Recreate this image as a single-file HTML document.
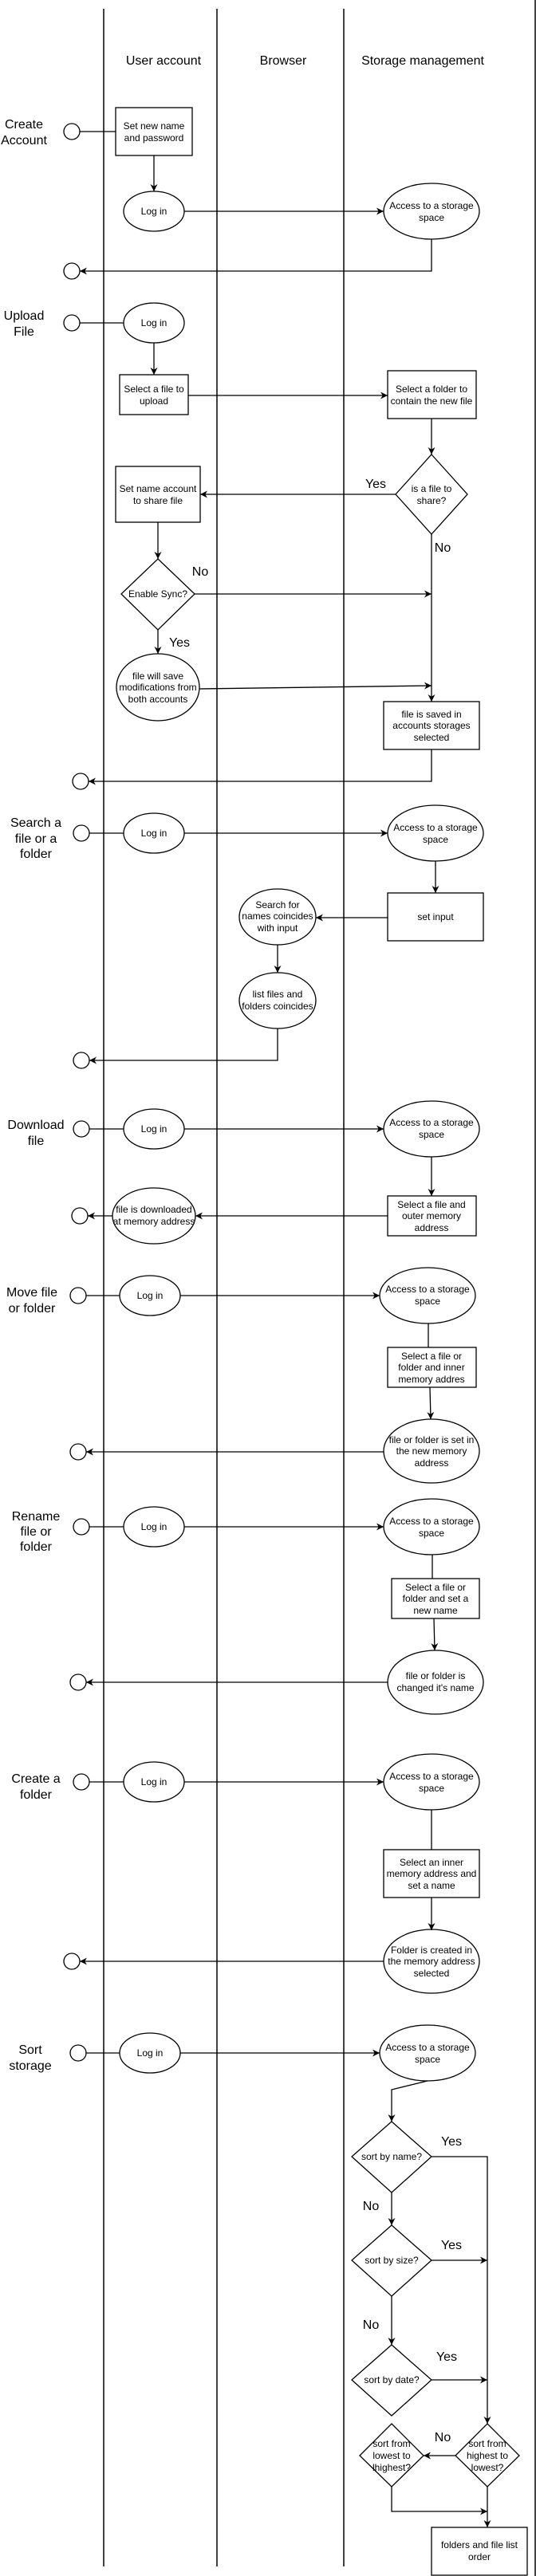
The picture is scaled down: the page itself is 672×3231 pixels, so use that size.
<!DOCTYPE html>
<html><head><meta charset="utf-8"><style>
html,body{margin:0;padding:0;background:#fff;}
svg{display:block;}
text{font-family:"Liberation Sans",Arial,sans-serif;fill:#000;}
.s{font-size:12px;}
.l{font-size:16px;}
</style></head><body>
<svg width="672" height="3231" viewBox="0 0 672 3231" xmlns="http://www.w3.org/2000/svg">
<defs>
<marker id="a" viewBox="0 0 10 10" refX="10" refY="5" markerWidth="9" markerHeight="9" markerUnits="userSpaceOnUse" orient="auto">
<path d="M0,0 L10,5 L0,10 L3,5 z" fill="#000"/>
</marker>
</defs>
<g stroke="#000" stroke-width="1.5" fill="none">
<line x1="130" y1="11" x2="130" y2="3219"/>
<line x1="272" y1="11" x2="272" y2="3219"/>
<line x1="431" y1="11" x2="431" y2="3219"/>
<line x1="671" y1="0" x2="671" y2="3231"/>
</g>
<g class="l" text-anchor="middle">
<text x="205" y="81">User account</text>
<text x="355" y="81">Browser</text>
<text x="530" y="81">Storage management</text>
<text x="30" y="161">Create</text><text x="30" y="181">Account</text>
<text x="30" y="401">Upload</text><text x="30" y="421">File</text>
<text x="45" y="1037">Search a</text><text x="45" y="1057">file or a</text><text x="45" y="1076">folder</text>
<text x="45" y="1416">Download</text><text x="45" y="1436">file</text>
<text x="40" y="1626">Move file</text><text x="40" y="1646">or folder</text>
<text x="45" y="1907">Rename</text><text x="45" y="1926">file or</text><text x="45" y="1945">folder</text>
<text x="45" y="2236">Create a</text><text x="45" y="2256">folder</text>
<text x="38" y="2576">Sort</text><text x="38" y="2596">storage</text>
<text x="471" y="612">Yes</text>
<text x="555" y="692">No</text>
<text x="251" y="722">No</text>
<text x="225" y="811">Yes</text>
<text x="566" y="2691">Yes</text>
<text x="465" y="2772">No</text>
<text x="566" y="2821">Yes</text>
<text x="465" y="2921">No</text>
<text x="560" y="2961">Yes</text>
<text x="555" y="3062">No</text>
</g>
<g stroke="#000" stroke-width="1.3" fill="#fff">
<!-- create account -->
<circle cx="90" cy="165" r="10"/>
<rect x="145" y="135" width="96" height="60"/>
<ellipse cx="193" cy="265" rx="38" ry="25"/>
<ellipse cx="541" cy="265" rx="60" ry="35"/>
<circle cx="90" cy="340" r="10"/>
<!-- upload -->
<circle cx="90" cy="405" r="10"/>
<ellipse cx="193" cy="405" rx="38" ry="25"/>
<rect x="150" y="470" width="86" height="50"/>
<rect x="486" y="465" width="111" height="60"/>
<polygon points="541,570 586,620 541,670 496,620"/>
<rect x="145" y="585" width="106" height="70"/>
<polygon points="198,701 244,745 198,790 152,745"/>
<ellipse cx="198" cy="862" rx="52" ry="42"/>
<rect x="481" y="880" width="120" height="60"/>
<circle cx="101" cy="980" r="10"/>
<!-- search -->
<circle cx="102" cy="1045" r="10"/>
<ellipse cx="193" cy="1045" rx="38" ry="25"/>
<ellipse cx="546" cy="1045" rx="60" ry="35"/>
<rect x="486" y="1120" width="120" height="60"/>
<ellipse cx="348" cy="1150" rx="48" ry="35"/>
<ellipse cx="348" cy="1255" rx="48" ry="35"/>
<circle cx="102" cy="1330" r="10"/>
<!-- download -->
<circle cx="102" cy="1416" r="10"/>
<ellipse cx="193" cy="1416" rx="38" ry="25"/>
<ellipse cx="541" cy="1416" rx="60" ry="35"/>
<rect x="486" y="1500" width="111" height="50"/>
<ellipse cx="193" cy="1525" rx="52" ry="35"/>
<circle cx="100" cy="1525" r="10"/>
<!-- move -->
<circle cx="98" cy="1625" r="10"/>
<ellipse cx="188" cy="1625" rx="38" ry="25"/>
<ellipse cx="536" cy="1625" rx="60" ry="35"/>
<rect x="486" y="1690" width="111" height="50"/>
<ellipse cx="541" cy="1820" rx="60" ry="40"/>
<circle cx="98" cy="1821" r="10"/>
<!-- rename -->
<circle cx="102" cy="1915" r="10"/>
<ellipse cx="193" cy="1915" rx="38" ry="25"/>
<ellipse cx="541" cy="1915" rx="60" ry="35"/>
<rect x="491" y="1980" width="110" height="50"/>
<ellipse cx="546" cy="2110" rx="60" ry="40"/>
<circle cx="98" cy="2110" r="10"/>
<!-- create folder -->
<circle cx="102" cy="2235" r="10"/>
<ellipse cx="193" cy="2235" rx="38" ry="25"/>
<ellipse cx="541" cy="2235" rx="60" ry="35"/>
<rect x="481" y="2320" width="120" height="60"/>
<ellipse cx="541" cy="2460" rx="60" ry="40"/>
<circle cx="90" cy="2460" r="10"/>
<!-- sort -->
<circle cx="98" cy="2575" r="10"/>
<ellipse cx="188" cy="2575" rx="38" ry="25"/>
<ellipse cx="536" cy="2575" rx="60" ry="35"/>
<polygon points="491,2661 541,2705 491,2750 441,2705"/>
<polygon points="491,2791 541,2835 491,2880 441,2835"/>
<polygon points="491,2941 541,2985 491,3030 441,2985"/>
<polygon points="611,3040 651,3080 611,3119 571,3080"/>
<polygon points="491,3040 531,3080 491,3119 451,3080"/>
<rect x="541" y="3170" width="120" height="60"/>
</g>
<g stroke="#000" stroke-width="1.3" fill="none">
<line x1="100" y1="165" x2="145" y2="165"/>
<line x1="193" y1="195" x2="193" y2="240" marker-end="url(#a)"/>
<line x1="231" y1="265" x2="481" y2="265" marker-end="url(#a)"/>
<polyline points="541,300 541,340 100,340" marker-end="url(#a)"/>
<line x1="100" y1="405" x2="155" y2="405"/>
<line x1="193" y1="430" x2="193" y2="470" marker-end="url(#a)"/>
<line x1="236" y1="496" x2="486" y2="496" marker-end="url(#a)"/>
<line x1="541" y1="525" x2="541" y2="570" marker-end="url(#a)"/>
<line x1="496" y1="620" x2="251" y2="620" marker-end="url(#a)"/>
<line x1="198" y1="655" x2="198" y2="701" marker-end="url(#a)"/>
<line x1="244" y1="745" x2="541" y2="745" marker-end="url(#a)"/>
<line x1="198" y1="790" x2="198" y2="820" marker-end="url(#a)"/>
<line x1="250" y1="864" x2="541" y2="860" marker-end="url(#a)"/>
<line x1="541" y1="670" x2="541" y2="880" marker-end="url(#a)"/>
<polyline points="541,940 541,980 111,980" marker-end="url(#a)"/>
<line x1="112" y1="1045" x2="155" y2="1045"/>
<line x1="231" y1="1045" x2="486" y2="1045" marker-end="url(#a)"/>
<line x1="546" y1="1080" x2="546" y2="1120" marker-end="url(#a)"/>
<line x1="486" y1="1151" x2="396" y2="1151" marker-end="url(#a)"/>
<line x1="348" y1="1185" x2="348" y2="1220" marker-end="url(#a)"/>
<polyline points="348,1290 348,1330 112,1330" marker-end="url(#a)"/>
<line x1="112" y1="1416" x2="155" y2="1416"/>
<line x1="231" y1="1416" x2="481" y2="1416" marker-end="url(#a)"/>
<line x1="541" y1="1451" x2="541" y2="1500" marker-end="url(#a)"/>
<line x1="486" y1="1525" x2="245" y2="1525" marker-end="url(#a)"/>
<line x1="141" y1="1525" x2="110" y2="1525" marker-end="url(#a)"/>
<line x1="108" y1="1625" x2="150" y2="1625"/>
<line x1="226" y1="1625" x2="476" y2="1625" marker-end="url(#a)"/>
<line x1="537" y1="1660" x2="537" y2="1690"/>
<line x1="539" y1="1740" x2="540" y2="1780" marker-end="url(#a)"/>
<line x1="481" y1="1821" x2="108" y2="1821" marker-end="url(#a)"/>
<line x1="112" y1="1915" x2="155" y2="1915"/>
<line x1="231" y1="1915" x2="481" y2="1915" marker-end="url(#a)"/>
<line x1="542" y1="1950" x2="542" y2="1980"/>
<line x1="544" y1="2030" x2="545" y2="2070" marker-end="url(#a)"/>
<line x1="486" y1="2110" x2="108" y2="2110" marker-end="url(#a)"/>
<line x1="112" y1="2235" x2="155" y2="2235"/>
<line x1="231" y1="2235" x2="481" y2="2235" marker-end="url(#a)"/>
<line x1="541" y1="2270" x2="541" y2="2320"/>
<line x1="541" y1="2380" x2="541" y2="2421" marker-end="url(#a)"/>
<line x1="481" y1="2460" x2="100" y2="2460" marker-end="url(#a)"/>
<line x1="108" y1="2575" x2="150" y2="2575"/>
<line x1="226" y1="2575" x2="476" y2="2575" marker-end="url(#a)"/>
<polyline points="536,2610 491,2621 491,2661" marker-end="url(#a)"/>
<line x1="491" y1="2750" x2="491" y2="2791" marker-end="url(#a)"/>
<line x1="491" y1="2880" x2="491" y2="2941" marker-end="url(#a)"/>
<polyline points="541,2705 611,2705 611,3040" marker-end="url(#a)"/>
<line x1="541" y1="2835" x2="611" y2="2835" marker-end="url(#a)"/>
<line x1="541" y1="2985" x2="611" y2="2985" marker-end="url(#a)"/>
<line x1="571" y1="3080" x2="531" y2="3080" marker-end="url(#a)"/>
<polyline points="491,3119 491,3150 611,3150" marker-end="url(#a)"/>
<line x1="611" y1="3119" x2="611" y2="3170" marker-end="url(#a)"/>
</g>
<g class="s" text-anchor="middle">
<text x="193" y="162">Set new name</text><text x="193" y="177">and password</text>
<text x="193" y="269">Log in</text>
<text x="541" y="262">Access to a storage</text><text x="541" y="277">space</text>
<text x="193" y="409">Log in</text>
<text x="193" y="492">Select a file to</text><text x="193" y="507">upload</text>
<text x="541" y="492">Select a folder to</text><text x="541" y="507">contain the new file</text>
<text x="541" y="617">is a file to</text><text x="541" y="632">share?</text>
<text x="198" y="617">Set name account</text><text x="198" y="632">to share file</text>
<text x="198" y="749">Enable Sync?</text>
<text x="198" y="852">file will save</text><text x="198" y="866">modifications from</text><text x="198" y="881">both accounts</text>
<text x="541" y="900">file is saved in</text><text x="541" y="914">accounts storages</text><text x="541" y="929">selected</text>
<text x="193" y="1049">Log in</text>
<text x="546" y="1042">Access to a storage</text><text x="546" y="1057">space</text>
<text x="546" y="1154">set input</text>
<text x="348" y="1139">Search for</text><text x="348" y="1153">names coincides</text><text x="348" y="1168">with input</text>
<text x="348" y="1251">list files and</text><text x="348" y="1266">folders coincides</text>
<text x="193" y="1420">Log in</text>
<text x="541" y="1412">Access to a storage</text><text x="541" y="1427">space</text>
<text x="541" y="1515">Select a file and</text><text x="541" y="1529">outer memory</text><text x="541" y="1544">address</text>
<text x="193" y="1521">file is downloaded</text><text x="193" y="1536">at memory address</text>
<text x="188" y="1629">Log in</text>
<text x="536" y="1621">Access to a storage</text><text x="536" y="1636">space</text>
<text x="541" y="1705">Select a file or</text><text x="541" y="1719">folder and inner</text><text x="541" y="1734">memory addres</text>
<text x="541" y="1810">file or folder is set in</text><text x="541" y="1824">the new memory</text><text x="541" y="1839">address</text>
<text x="193" y="1919">Log in</text>
<text x="541" y="1912">Access to a storage</text><text x="541" y="1927">space</text>
<text x="546" y="1995">Select a file or</text><text x="546" y="2009">folder and set a</text><text x="546" y="2024">new name</text>
<text x="546" y="2106">file or folder is</text><text x="546" y="2121">changed it's name</text>
<text x="193" y="2239">Log in</text>
<text x="541" y="2232">Access to a storage</text><text x="541" y="2247">space</text>
<text x="541" y="2340">Select an inner</text><text x="541" y="2354">memory address and</text><text x="541" y="2369">set a name</text>
<text x="541" y="2450">Folder is created in</text><text x="541" y="2464">the memory address</text><text x="541" y="2479">selected</text>
<text x="188" y="2579">Log in</text>
<text x="536" y="2572">Access to a storage</text><text x="536" y="2587">space</text>
<text x="491" y="2709">sort by name?</text>
<text x="491" y="2839">sort by size?</text>
<text x="491" y="2989">sort by date?</text>
<text x="611" y="3069">sort from</text><text x="611" y="3084">highest to</text><text x="611" y="3099">lowest?</text>
<text x="491" y="3069">sort from</text><text x="491" y="3084">lowest to</text><text x="491" y="3099">lhighest?</text>
<text x="601" y="3196">folders and file list</text><text x="601" y="3211">order</text>
</g>
</svg>
</body></html>
